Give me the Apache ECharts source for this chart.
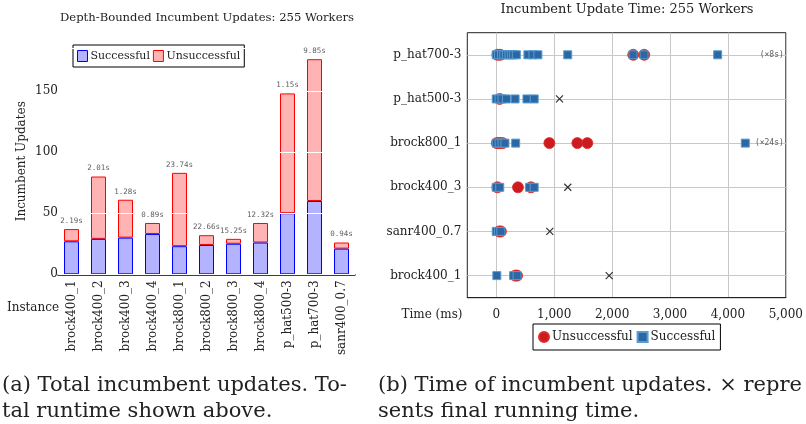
<!DOCTYPE html>
<html><head><meta charset="utf-8">
<script src="https://cdn.jsdelivr.net/npm/echarts@6/dist/echarts.min.js"></script>
<style>html,body{margin:0;padding:0;background:#fff}#c{width:806px;height:424px}</style>
</head><body><div id="c"></div>
<script>
// ---- Left chart data ----
const instances = ['brock400_1','brock400_2','brock400_3','brock400_4','brock800_1','brock800_2','brock800_3','brock800_4','p_hat500-3','p_hat700-3','sanr400_0.7'];
const successful   = [27, 29, 30, 33, 23, 24, 25, 26, 50, 60, 21];
const unsuccessful = [10, 51, 31,  9, 60,  8,  4, 16, 98, 116, 5];
const runtimes = ['2.19s','2.01s','1.28s','0.89s','23.74s','22.66s','15.25s','12.32s','1.15s','9.85s','0.94s'];
const updateTicks = [0, 50, 100, 150];

// ---- Right chart data ----
const timeRows = ['brock400_1','sanr400_0.7','brock400_3','brock800_1','p_hat500-3','p_hat700-3'];
const unsuccTimes = [
  [330, 360],
  [50, 80],
  [20, 375, 600],
  [10, 40, 70, 110, 917, 1400, 1572],
  [60],
  [20, 70, 2365, 2555]
];
const succTimes = [
  [10, 300, 360],
  [0, 40, 80],
  [0, 60, 575, 655],
  [0, 50, 100, 150, 335, 4300],
  [0, 50, 100, 175, 325, 530, 655],
  [0, 40, 90, 130, 175, 220, 260, 300, 347, 547, 633, 719, 1234, 2362, 2552, 3823]
];
const finalTimes = [1950, 925, 1235, null, 1092, null];
const offChartNotes = [null, null, null, '(\u00d724s)', null, '(\u00d78s)'];
const timeTicks = [0, 1000, 2000, 3000, 4000, 5000];
const TIME_MIN = -500, TIME_MAX = 5000;

const SERIF = '"DejaVu Serif", serif';
const MONO = '"DejaVu Sans Mono", monospace';

function flatten(rows) {
  const out = [];
  rows.forEach((r, i) => r.forEach(t => out.push([t, i])));
  return out;
}
const totals = successful.map((s, i) => s + unsuccessful[i]);
const finalData = [];
finalTimes.forEach((t, i) => { if (t !== null) finalData.push([t, i]); });
const noteData = [];
offChartNotes.forEach((n, i) => { if (n !== null) noteData.push({value: [TIME_MAX, i], note: n}); });

const chart = echarts.init(document.getElementById('c'), null, {renderer: 'canvas'});
const txt = (text, x, y, size, align) => ({
  type: 'text', x: x, y: y, silent: true,
  style: {text: text, font: size + 'px ' + SERIF, fill: '#222', align: align || 'center', verticalAlign: 'middle'}
});

chart.setOption({
  animation: false,
  backgroundColor: '#fff',
  graphic: [
    txt('Depth-Bounded Incumbent Updates: 255 Workers', 207, 18, 11.6),
    txt('Incumbent Update Time: 255 Workers', 627, 10, 13),
    txt('Instance', 33, 308, 12),
    txt('Time (ms)', 432, 315, 12),
    txt('(a) Total incumbent updates. To-', 2, 386, 21, 'left'),
    txt('tal runtime shown above.', 2, 412, 21, 'left'),
    txt('(b) Time of incumbent updates. \u00d7 repre', 378, 386, 21, 'left'),
    txt('sents final running time.', 378, 412, 21, 'left')
  ],
  legend: [
    {
      data: [
        {name: 'Successful', itemStyle: {color: '#b3b3ff', borderColor: '#0000ff', borderWidth: 1}},
        {name: 'Unsuccessful', itemStyle: {color: '#ffb3b3', borderColor: '#ff0000', borderWidth: 1}}
      ],
      left: 73, top: 45, icon: 'rect', itemWidth: 10, itemHeight: 11, itemGap: 3,
      padding: [5, 4], borderColor: '#000', borderWidth: 1,
      textStyle: {fontFamily: SERIF, fontSize: 11, color: '#222', padding: [0, 0, 0, -2]},
      selectedMode: false
    },
    {
      data: [
        {name: 'Unsuccessful ', icon: 'circle'},
        {name: 'Successful ', icon: 'rect'}
      ],
      left: 533, top: 324, itemWidth: 10, itemHeight: 10, itemGap: 4,
      padding: [7, 5], borderColor: '#000', borderWidth: 1,
      formatter: n => n.trim(),
      textStyle: {fontFamily: SERIF, fontSize: 12, color: '#222', padding: [0, 0, 0, -2]},
      selectedMode: false
    }
  ],
  grid: [
    {left: 58, top: 48.2, width: 297, height: 226.1, show: false},
    {left: 467.3, top: 32.7, width: 319.4, height: 265, show: true, borderColor: '#222', borderWidth: 1}
  ],
  xAxis: [
    {
      type: 'category', gridIndex: 0, data: instances,
      axisLine: {show: true, onZero: false, lineStyle: {color: '#000', width: 1.5}},
      axisTick: {show: false},
      axisLabel: {rotate: 90, margin: 6, fontFamily: SERIF, fontSize: 12, color: '#222', interval: 0}
    },
    {
      type: 'value', gridIndex: 1, min: TIME_MIN, max: TIME_MAX, interval: 500,
      axisLine: {show: true, onZero: false, lineStyle: {color: '#222', width: 1}},
      axisTick: {show: false},
      axisLabel: {
        margin: 11, fontFamily: SERIF, fontSize: 12, color: '#222',
        formatter: v => timeTicks.includes(v) ? v.toLocaleString('en-US') : ''
      },
      splitLine: {show: true, lineStyle: {color: ['transparent', '#c8c8c8'], width: 1}}
    }
  ],
  yAxis: [
    {
      type: 'value', gridIndex: 0, min: 0, max: 185, interval: 50, z: 5,
      name: 'Incumbent Updates', nameLocation: 'middle', nameGap: 30,
      nameTextStyle: {fontFamily: SERIF, fontSize: 12, color: '#222'},
      axisLine: {show: false},
      axisTick: {show: false},
      axisLabel: {
        margin: 0, fontFamily: SERIF, fontSize: 12, color: '#222', showMaxLabel: false,
        formatter: v => updateTicks.includes(v) ? String(v) : ''
      },
      splitLine: {show: true, lineStyle: {color: '#fff', width: 1.2}}
    },
    {
      type: 'value', gridIndex: 1, min: -0.5, max: 5.5, interval: 0.5,
      axisLine: {show: false},
      axisTick: {show: false},
      axisLabel: {
        margin: 6, fontFamily: SERIF, fontSize: 12, color: '#222',
        formatter: v => Number.isInteger(v) ? timeRows[v] : ''
      },
      splitLine: {show: true, lineStyle: {color: ['transparent', '#c8c8c8'], width: 1}}
    }
  ],
  series: [
    {
      name: 'Successful', type: 'bar', stack: 'u', xAxisIndex: 0, yAxisIndex: 0,
      data: successful, barWidth: 15, z: 3,
      itemStyle: {color: '#b3b3ff', borderColor: '#0000ff', borderWidth: 1}
    },
    {
      name: 'Unsuccessful', type: 'bar', stack: 'u', xAxisIndex: 0, yAxisIndex: 0,
      data: unsuccessful, barWidth: 15, z: 2,
      itemStyle: {color: '#ffb3b3', borderColor: '#ff0000', borderWidth: 1}
    },
    {
      name: 'runtime', type: 'scatter', xAxisIndex: 0, yAxisIndex: 0,
      data: totals, symbolSize: 0, z: 10, silent: true,
      label: {
        show: true, position: 'top', distance: 4,
        fontFamily: MONO, fontSize: 7.5, color: '#333',
        formatter: p => runtimes[p.dataIndex]
      }
    },
    {
      name: 'Unsuccessful ', type: 'scatter', xAxisIndex: 1, yAxisIndex: 1,
      data: flatten(unsuccTimes), symbol: 'circle', symbolSize: 11, z: 3,
      itemStyle: {color: '#cc1a1f', borderColor: '#e02a2a', borderWidth: 0.8, opacity: 1}
    },
    {
      name: 'Successful ', type: 'scatter', xAxisIndex: 1, yAxisIndex: 1,
      data: flatten(succTimes), symbol: 'rect', symbolSize: 8, z: 4,
      itemStyle: {color: '#2a67a3', borderColor: '#5a9bd0', borderWidth: 1, opacity: 1}
    },
    {
      name: 'final', type: 'scatter', xAxisIndex: 1, yAxisIndex: 1,
      data: finalData, symbol: 'path://M0,0L10,10M10,0L0,10', symbolSize: 7, z: 5,
      itemStyle: {color: 'none', borderColor: '#000', borderWidth: 1.2}
    },
    {
      name: 'notes', type: 'scatter', xAxisIndex: 1, yAxisIndex: 1,
      data: noteData, symbolSize: 0, z: 6,
      label: {
        show: true, position: 'left', distance: 2,
        fontFamily: MONO, fontSize: 8, color: '#333',
        formatter: p => p.data.note
      }
    }
  ]
});
</script>
</body></html>
